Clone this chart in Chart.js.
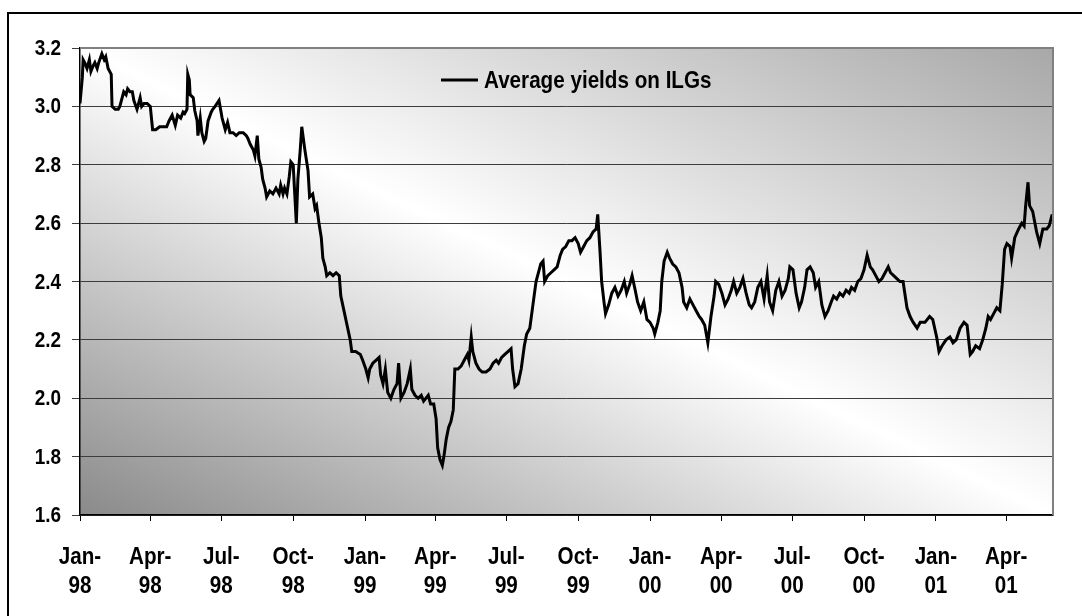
<!DOCTYPE html>
<html>
<head>
<meta charset="utf-8">
<title>Average yields on ILGs</title>
<script src="https://cdn.jsdelivr.net/npm/chart.js@4.4.1/dist/chart.umd.min.js"></script>
<style>
  html, body { margin: 0; padding: 0; background: #fff; }
  #wrap { width: 1082px; height: 616px; }
</style>
</head>
<body>
<div id="wrap"><canvas id="yieldChart" width="1082" height="616"></canvas></div>
<script>
// observation day, counted from 1 Jan 1998
const obsDay = [
  0, 3, 4, 6, 9, 12, 14, 17, 19, 22, 24, 28, 31, 33, 36, 40, 41, 45, 49, 51,
  54, 56, 59, 61, 64, 67, 69, 73, 77, 79, 82, 86, 90, 93, 97, 102, 108, 111, 114, 118,
  122, 125, 129, 132, 134, 137, 138, 140, 141, 145, 147, 150, 151, 154, 156, 159, 161, 164, 168, 170,
  173, 178, 182, 186, 189, 192, 196, 200, 204, 209, 213, 215, 218, 222, 224, 227, 229, 232, 234, 237,
  239, 243, 247, 251, 255, 257, 260, 262, 265, 268, 270, 273, 275, 277, 279, 282, 284, 288, 292, 294,
  298, 301, 303, 306, 309, 311, 314, 316, 320, 324, 328, 332, 334, 338, 342, 346, 348, 353, 359, 362,
  366, 369, 371, 375, 379, 383, 385, 388, 391, 394, 398, 402, 406, 408, 411, 415, 419, 423, 425, 429,
  433, 437, 440, 446, 449, 453, 456, 458, 461, 464, 466, 469, 472, 475, 478, 480, 484, 488, 492, 496,
  498, 501, 503, 507, 511, 515, 520, 525, 529, 533, 536, 540, 544, 548, 552, 554, 557, 561, 565, 569,
  572, 576, 580, 584, 588, 590, 593, 595, 599, 603, 607, 611, 615, 618, 622, 626, 630, 634, 638, 641,
  645, 649, 653, 657, 661, 663, 666, 668, 671, 673, 677, 681, 685, 689, 693, 697, 700, 704, 707, 711,
  714, 718, 722, 726, 730, 734, 736, 740, 743, 745, 748, 752, 755, 759, 763, 767, 771, 773, 777, 781,
  785, 789, 793, 796, 800, 804, 808, 812, 814, 818, 822, 826, 830, 834, 837, 841, 845, 849, 853, 857,
  860, 864, 868, 872, 876, 880, 883, 887, 891, 895, 899, 903, 907, 909, 913, 917, 921, 924, 928, 931,
  935, 939, 942, 946, 950, 954, 958, 962, 965, 969, 973, 977, 981, 985, 988, 992, 996, 1000, 1004, 1008,
  1012, 1015, 1019, 1023, 1027, 1031, 1035, 1038, 1042, 1046, 1050, 1054, 1059, 1063, 1067, 1072, 1076, 1082, 1088, 1092,
  1097, 1100, 1104, 1109, 1114, 1118, 1122, 1127, 1132, 1136, 1140, 1143, 1147, 1152, 1156, 1160, 1163, 1166, 1170, 1174,
  1178, 1181, 1184, 1187, 1191, 1193, 1197, 1202, 1206, 1209, 1211, 1214, 1216, 1220, 1225, 1229, 1233, 1238, 1241, 1245
];

// average real yield on index-linked gilts, %
const avgYield = [
  3.01, 3.10, 3.16, 3.15, 3.13, 3.16, 3.12, 3.14, 3.15, 3.13, 3.15, 3.18, 3.16, 3.17, 3.13, 3.11, 3.00, 2.99, 2.99, 3.00,
  3.03, 3.05, 3.04, 3.06, 3.05, 3.05, 3.02, 2.99, 3.03, 3.00, 3.01, 3.01, 3.00, 2.92, 2.92, 2.93, 2.93, 2.93, 2.95, 2.97,
  2.935, 2.97, 2.96, 2.98, 2.975, 2.99, 3.11, 3.09, 3.04, 3.03, 2.985, 2.95, 2.90, 2.96, 2.91, 2.88, 2.89, 2.95, 2.98, 2.99,
  3.00, 3.02, 2.96, 2.92, 2.945, 2.91, 2.91, 2.90, 2.91, 2.91, 2.90, 2.89, 2.87, 2.85, 2.83, 2.90, 2.82, 2.79, 2.75, 2.72,
  2.69, 2.71, 2.70, 2.72, 2.70, 2.73, 2.70, 2.72, 2.70, 2.76, 2.81, 2.80, 2.70, 2.60, 2.75, 2.85, 2.93, 2.85, 2.78, 2.69,
  2.70, 2.65, 2.66, 2.60, 2.55, 2.48, 2.45, 2.42, 2.43, 2.42, 2.43, 2.42, 2.35, 2.30, 2.25, 2.20, 2.16, 2.16, 2.15, 2.13,
  2.10, 2.07, 2.10, 2.12, 2.13, 2.14, 2.08, 2.05, 2.10, 2.02, 2.00, 2.03, 2.05, 2.12, 2.00, 2.02, 2.05, 2.10, 2.03, 2.01,
  2.00, 2.01, 1.99, 2.01, 1.98, 1.98, 1.93, 1.83, 1.79, 1.77, 1.80, 1.86, 1.90, 1.92, 1.96, 2.10, 2.10, 2.11, 2.13, 2.15,
  2.13, 2.21, 2.16, 2.12, 2.10, 2.09, 2.09, 2.10, 2.12, 2.13, 2.12, 2.14, 2.15, 2.16, 2.17, 2.10, 2.04, 2.05, 2.10, 2.18,
  2.22, 2.24, 2.32, 2.40, 2.44, 2.46, 2.47, 2.40, 2.42, 2.43, 2.44, 2.45, 2.49, 2.51, 2.52, 2.54, 2.54, 2.55, 2.53, 2.50,
  2.52, 2.54, 2.55, 2.57, 2.58, 2.63, 2.50, 2.40, 2.33, 2.29, 2.32, 2.36, 2.38, 2.35, 2.37, 2.40, 2.36, 2.39, 2.42, 2.37,
  2.33, 2.30, 2.33, 2.27, 2.26, 2.24, 2.22, 2.26, 2.30, 2.40, 2.47, 2.50, 2.48, 2.46, 2.45, 2.43, 2.38, 2.33, 2.31, 2.34,
  2.32, 2.30, 2.28, 2.27, 2.25, 2.19, 2.28, 2.35, 2.40, 2.39, 2.36, 2.32, 2.34, 2.37, 2.40, 2.36, 2.38, 2.41, 2.36, 2.32,
  2.31, 2.33, 2.38, 2.40, 2.34, 2.42, 2.33, 2.30, 2.37, 2.40, 2.35, 2.37, 2.41, 2.45, 2.44, 2.36, 2.31, 2.33, 2.38, 2.44,
  2.45, 2.43, 2.38, 2.40, 2.32, 2.28, 2.30, 2.33, 2.35, 2.34, 2.36, 2.35, 2.37, 2.36, 2.38, 2.37, 2.40, 2.41, 2.44, 2.49,
  2.45, 2.44, 2.42, 2.40, 2.41, 2.43, 2.45, 2.43, 2.42, 2.41, 2.40, 2.40, 2.31, 2.28, 2.26, 2.24, 2.26, 2.26, 2.28, 2.27,
  2.21, 2.16, 2.18, 2.20, 2.21, 2.19, 2.20, 2.24, 2.26, 2.25, 2.15, 2.16, 2.18, 2.17, 2.20, 2.24, 2.28, 2.27, 2.29, 2.31,
  2.30, 2.39, 2.51, 2.53, 2.52, 2.48, 2.55, 2.58, 2.60, 2.59, 2.66, 2.74, 2.66, 2.64, 2.57, 2.53, 2.58, 2.58, 2.59, 2.63
];

// quarter starts shown on the x axis
const tickMonths = [
  [1998, 0], [1998, 3], [1998, 6], [1998, 9],
  [1999, 0], [1999, 3], [1999, 6], [1999, 9],
  [2000, 0], [2000, 3], [2000, 6], [2000, 9],
  [2001, 0], [2001, 3]
];
const monthNames = ["Jan", "Feb", "Mar", "Apr", "May", "Jun", "Jul", "Aug", "Sep", "Oct", "Nov", "Dec"];
const yTicks = [1.6, 1.8, 2.0, 2.2, 2.4, 2.6, 2.8, 3.0, 3.2];
const lastDay = 1246; // 31 May 2001

const DAY = 86400000;
const origin = Date.UTC(1998, 0, 1);
const dayOf = (y, m) => Math.round((Date.UTC(y, m, 1) - origin) / DAY);
const tickDays = tickMonths.map(([y, m]) => dayOf(y, m));
const tickText = tickMonths.map(([y, m]) => [monthNames[m] + "-", String(y % 100).padStart(2, "0")]);

const points = obsDay.map((d, i) => ({ x: d, y: avgYield[i] }));

const FONT = "'Liberation Sans', Arial, sans-serif";
const SQUEEZE = 0.86; // narrow bold lettering

function narrowText(ctx, text, x, y, size, align) {
  ctx.save();
  ctx.translate(x, y);
  ctx.scale(SQUEEZE, 1);
  ctx.font = "bold " + size + "px " + FONT;
  ctx.fillStyle = "#000";
  ctx.textAlign = align;
  ctx.textBaseline = "middle";
  ctx.fillText(text, 0, 0);
  ctx.restore();
}

// shaded plot area, grey at two corners and white along the diagonal
const plotBackground = {
  id: "plotBackground",
  beforeDraw(chart) {
    const { ctx, chartArea: a } = chart;
    ctx.save();
    ctx.translate(a.left, a.top);
    ctx.scale(a.right - a.left, a.bottom - a.top);
    const g = ctx.createLinearGradient(0, 1, 1, 0);
    g.addColorStop(0, "#8a8a8a");
    g.addColorStop(0.5, "#ffffff");
    g.addColorStop(1, "#a8a8a8");
    ctx.fillStyle = g;
    ctx.fillRect(0, 0, 1, 1);
    ctx.restore();
  },
  afterDatasetsDraw(chart) {
    const { ctx, chartArea: a } = chart;
    ctx.save();
    ctx.strokeStyle = "#808080";
    ctx.lineWidth = 2;
    ctx.beginPath();
    ctx.moveTo(a.left, a.top);
    ctx.lineTo(a.right, a.top);
    ctx.lineTo(a.right, a.bottom);
    ctx.stroke();
    ctx.restore();
  }
};

// axis labels, legend and the outer frame
const labelPlugin = {
  id: "labelPlugin",
  afterDraw(chart) {
    const ctx = chart.ctx;
    const xs = chart.scales.x;
    const ys = chart.scales.y;

    tickDays.forEach((d, i) => {
      const px = xs.getPixelForValue(d);
      narrowText(ctx, tickText[i][0], px, 557, 24, "center");
      narrowText(ctx, tickText[i][1], px, 586, 24, "center");
    });
    yTicks.forEach(v => {
      narrowText(ctx, v.toFixed(1), 61, ys.getPixelForValue(v) + 1, 22, "right");
    });

    ctx.save();
    ctx.strokeStyle = "#000";
    ctx.lineWidth = 2;
    ctx.beginPath();
    ctx.moveTo(8, 616);
    ctx.lineTo(8, 13);
    ctx.lineTo(1082, 13);
    ctx.stroke();

    ctx.lineWidth = 3;
    ctx.beginPath();
    ctx.moveTo(441, 80);
    ctx.lineTo(478, 80);
    ctx.stroke();
    ctx.restore();
    narrowText(ctx, chart.data.datasets[0].label, 484, 81, 24, "left");
  }
};

new Chart(document.getElementById("yieldChart"), {
  type: "line",
  data: {
    datasets: [{
      label: "Average yields on ILGs",
      data: points,
      borderColor: "#000",
      borderWidth: 3,
      pointRadius: 0,
      tension: 0,
      fill: false
    }]
  },
  options: {
    responsive: false,
    devicePixelRatio: 1,
    animation: false,
    layout: { padding: { left: 0, top: 48, right: 29, bottom: 0 } },
    plugins: {
      legend: { display: false },
      tooltip: { enabled: false }
    },
    scales: {
      x: {
        type: "linear",
        min: 0,
        max: lastDay,
        afterFit(scale) { scale.height = 101; },
        afterBuildTicks(scale) {
          scale.ticks = tickDays.map(v => ({ value: v }));
        },
        ticks: { display: false },
        grid: {
          display: true,
          drawOnChartArea: false,
          drawTicks: true,
          tickLength: 6,
          color: "#000"
        },
        border: { display: true, color: "#000", width: 1.5 }
      },
      y: {
        min: 1.6,
        max: 3.2,
        afterFit(scale) { scale.width = 80; },
        afterBuildTicks(scale) {
          scale.ticks = yTicks.map(v => ({ value: v }));
        },
        ticks: { display: false },
        grid: {
          color: "#3c3c3c",
          lineWidth: 1,
          tickLength: 8,
          drawTicks: true
        },
        border: { display: true, color: "#000", width: 1.5 }
      }
    }
  },
  plugins: [plotBackground, labelPlugin]
});
</script>
</body>
</html>
